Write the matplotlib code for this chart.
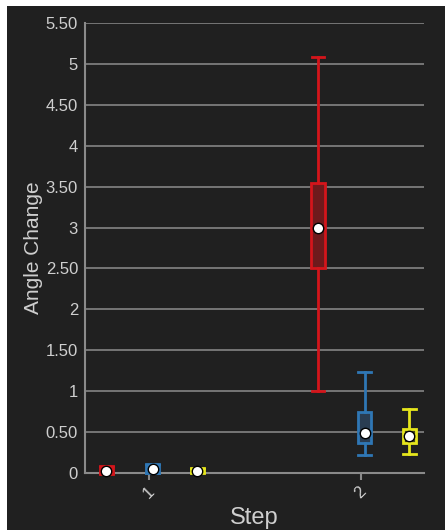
import matplotlib
matplotlib.use("Agg")
import matplotlib.pyplot as plt
from matplotlib.patches import Rectangle

plt.rcParams['font.family'] = ['Liberation Sans', 'DejaVu Sans']

# Step categories and the three series per step
steps = ['1', '2']
series_colors = ['#d4151b', '#2f77b5', '#e6e61c']
series_fill = ['#6e1a1c', '#2a3d52', '#4a4a1e']
offsets = [-0.2, 0.02, 0.23]

# Box statistics per series: one value per step
whislo = [[0.0, 1.0], [0.0, 0.22], [0.0, 0.23]]
q1 = [[-0.01, 2.5], [0.0, 0.37], [0.01, 0.37]]
mean = [[0.03, 3.0], [0.05, 0.49], [0.03, 0.45]]
q3 = [[0.07, 3.55], [0.1, 0.74], [0.05, 0.54]]
whishi = [[0.08, 5.08], [0.11, 1.23], [0.06, 0.78]]

ytick_values = [0, 0.5, 1, 1.5, 2, 2.5, 3, 3.5, 4, 4.5, 5, 5.5]
ytick_labels = ['0', '0.50', '1', '1.50', '2', '2.50', '3', '3.50', '4', '4.50', '5', '5.50']

BG = '#202020'
GRID = '#7c7c7c'
TEXT = '#cfcfcf'

fig = plt.figure(figsize=(4.45, 5.30), dpi=100, facecolor=BG)
ax = fig.add_axes([0.191, 0.1075, 0.762, 0.849], facecolor=BG)

# thin white frame along top and left edge
fig.patches.append(Rectangle((0, 1 - 6 / 530), 1, 6 / 530, transform=fig.transFigure,
                             facecolor='white', edgecolor='none'))
fig.patches.append(Rectangle((0, 0), 7 / 445, 1, transform=fig.transFigure,
                             facecolor='white', edgecolor='none'))

for s in range(len(series_colors)):
    stats = []
    positions = []
    for i in range(len(steps)):
        stats.append({
            'whislo': whislo[s][i], 'q1': q1[s][i], 'med': mean[s][i],
            'q3': q3[s][i], 'whishi': whishi[s][i], 'mean': mean[s][i], 'fliers': [],
        })
        positions.append(i + offsets[s])
    c = series_colors[s]
    parts = ax.bxp(stats, positions=positions, widths=0.063, patch_artist=True,
                   showmeans=True, manage_ticks=False,
                   boxprops=dict(facecolor=series_fill[s], edgecolor=c, linewidth=2),
                   whiskerprops=dict(color=c, linewidth=2),
                   capprops=dict(color=c, linewidth=2),
                   capwidths=0.06,
                   medianprops=dict(linewidth=0),
                   meanprops=dict(marker='o', markerfacecolor='white', markeredgecolor='black',
                                  markeredgewidth=1, markersize=7.5))
    # let the near-zero boxes spill over the axis line
    for artists in parts.values():
        for a in artists:
            a.set_clip_on(False)

ax.set_xlim(-0.3, 1.3)
ax.set_ylim(0, 5.5)
ax.set_yticks(ytick_values)
ax.set_yticklabels(ytick_labels)
ax.set_xticks(range(len(steps)))
ax.set_xticklabels(steps, rotation=45)

ax.grid(axis='y', color=GRID, linewidth=1.3)
ax.set_axisbelow(True)
for side in ['top', 'right']:
    ax.spines[side].set_visible(False)
for side in ['left', 'bottom']:
    ax.spines[side].set_color('#8a8a8a')
    ax.spines[side].set_linewidth(1.5)
    ax.spines[side].set_zorder(1.5)

ax.tick_params(axis='y', length=0, pad=5, labelsize=12, labelcolor=TEXT)
ax.tick_params(axis='x', length=5, width=1.5, color='#8a8a8a', pad=3,
               labelsize=12, labelcolor=TEXT)

ax.set_xlabel('Step', fontsize=17, color=TEXT, labelpad=4)
ax.set_ylabel('Angle Change', fontsize=15, color=TEXT, labelpad=2)

fig.savefig('out.png', dpi=100, facecolor=BG)
